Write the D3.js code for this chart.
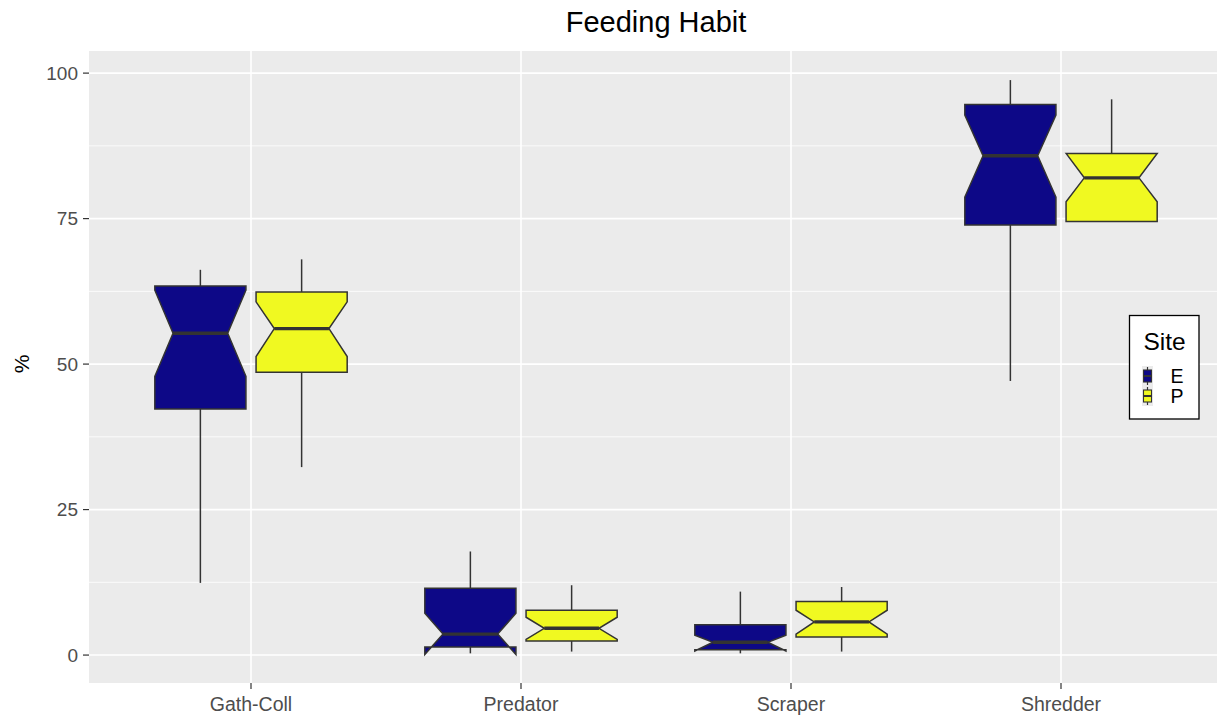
<!DOCTYPE html>
<html>
<head>
<meta charset="utf-8">
<script src="https://cdn.jsdelivr.net/npm/d3@7"></script>
<style>
  html, body { margin: 0; padding: 0; background: #fff; }
  svg { display: block; font-family: "Liberation Sans", Arial, sans-serif; }
</style>
</head>
<body>
<svg id="chart" width="1217" height="719"></svg>
<script>
// Feeding habit categories and sites
const categories = ["Gath-Coll", "Predator", "Scraper", "Shredder"];
const sites = ["E", "P"];
const siteColors = ["#0D0887", "#F0F921"];

// Boxplot statistics per category, one entry per site (E, P)
const whiskerLow  = [[12.4, 32.3], [0.3, 0.6], [0.3, 0.6], [47.1, 74.5]];
const q1          = [[42.3, 48.6], [1.4, 2.4], [0.9, 3.1], [73.9, 74.5]];
const notchLow    = [[47.9, 51.3], [0.1, 2.7], [0.7, 3.6], [78.7, 77.9]];
const median      = [[55.3, 56.1], [3.6, 4.6], [2.2, 5.7], [85.8, 82.0]];
const notchHigh   = [[62.7, 60.7], [7.2, 6.5], [3.4, 7.7], [92.8, 86.2]];
const q3          = [[63.4, 62.4], [11.5, 7.7], [5.2, 9.2], [94.6, 86.2]];
const whiskerHigh = [[66.2, 68.0], [17.8, 12.0], [10.9, 11.7], [98.8, 95.5]];

const yTicks = [0, 25, 50, 75, 100];
const yMinor = [12.5, 37.5, 62.5, 87.5];

const svg = d3.select("#chart");
const panel = { left: 89, top: 51, right: 1223, bottom: 683 };

const x = d3.scaleBand()
  .domain(categories)
  .range([panel.left, panel.right])
  .paddingInner(0)
  .paddingOuter(0.1);
const xSite = d3.scaleBand()
  .domain(sites)
  .range([-0.375 * x.bandwidth(), 0.375 * x.bandwidth()])
  .paddingInner(0.1)
  .paddingOuter(0.05);
const y = d3.scaleLinear().domain([-4.8, 103.8]).range([panel.bottom, panel.top]);
const color = d3.scaleOrdinal().domain(sites).range(siteColors);

const cx = c => x(c) + x.bandwidth() / 2;

// Panel background
svg.append("rect")
  .attr("x", panel.left).attr("y", panel.top)
  .attr("width", panel.right - panel.left).attr("height", panel.bottom - panel.top)
  .attr("fill", "#EBEBEB");

// Grid lines
const grid = svg.append("g");
grid.selectAll(".minor").data(yMinor).join("line")
  .attr("x1", panel.left).attr("x2", panel.right)
  .attr("y1", d => y(d)).attr("y2", d => y(d))
  .attr("stroke", "#fff").attr("stroke-width", 0.8);
grid.selectAll(".majorY").data(yTicks).join("line")
  .attr("x1", panel.left).attr("x2", panel.right)
  .attr("y1", d => y(d)).attr("y2", d => y(d))
  .attr("stroke", "#fff").attr("stroke-width", 1.6);
grid.selectAll(".majorX").data(categories).join("line")
  .attr("x1", d => cx(d)).attr("x2", d => cx(d))
  .attr("y1", panel.top).attr("y2", panel.bottom)
  .attr("stroke", "#fff").attr("stroke-width", 1.6);

// Flatten stats into one record per box
const boxes = [];
categories.forEach((c, i) => {
  sites.forEach((s, j) => {
    boxes.push({
      cat: c, site: s,
      lo: whiskerLow[i][j], q1: q1[i][j], nl: notchLow[i][j], med: median[i][j],
      nu: notchHigh[i][j], q3: q3[i][j], hi: whiskerHigh[i][j]
    });
  });
});

const stroke = "#333333";
const g = svg.append("g");
const bw = xSite.bandwidth();
const inset = bw * 0.2;

boxes.forEach(b => {
  const xc = cx(b.cat) + xSite(b.site) + bw / 2;
  const x0 = xc - bw / 2, x1 = xc + bw / 2;
  // whiskers
  g.append("line").attr("x1", xc).attr("x2", xc)
    .attr("y1", y(b.q3)).attr("y2", y(b.hi))
    .attr("stroke", stroke).attr("stroke-width", 1.5);
  g.append("line").attr("x1", xc).attr("x2", xc)
    .attr("y1", y(b.q1)).attr("y2", y(b.lo))
    .attr("stroke", stroke).attr("stroke-width", 1.5);
  // notched box
  const pts = [
    [x0, y(b.q3)], [x0, y(b.nu)], [x0 + inset, y(b.med)], [x0, y(b.nl)], [x0, y(b.q1)],
    [x1, y(b.q1)], [x1, y(b.nl)], [x1 - inset, y(b.med)], [x1, y(b.nu)], [x1, y(b.q3)]
  ];
  g.append("path")
    .attr("d", d3.line()(pts) + "Z")
    .attr("fill", color(b.site))
    .attr("stroke", stroke).attr("stroke-width", 1.5)
    .attr("stroke-linejoin", "miter");
  // median
  g.append("line")
    .attr("x1", x0 + inset).attr("x2", x1 - inset)
    .attr("y1", y(b.med)).attr("y2", y(b.med))
    .attr("stroke", stroke).attr("stroke-width", 3.4);
});

// Y axis
const yAxis = svg.append("g");
yTicks.forEach(t => {
  yAxis.append("line").attr("x1", panel.left - 6).attr("x2", panel.left)
    .attr("y1", y(t)).attr("y2", y(t)).attr("stroke", stroke).attr("stroke-width", 1.2);
  yAxis.append("text").attr("x", panel.left - 11).attr("y", y(t))
    .attr("dy", "0.36em").attr("text-anchor", "end")
    .attr("font-size", 19).attr("fill", "#4D4D4D").text(t);
});

// X axis
const xAxis = svg.append("g");
categories.forEach(c => {
  xAxis.append("line").attr("x1", cx(c)).attr("x2", cx(c))
    .attr("y1", panel.bottom).attr("y2", panel.bottom + 6)
    .attr("stroke", stroke).attr("stroke-width", 1.2);
  xAxis.append("text").attr("x", cx(c)).attr("y", panel.bottom + 28)
    .attr("text-anchor", "middle")
    .attr("font-size", 19.5).attr("fill", "#4D4D4D").text(c);
});

// Axis title and chart title
svg.append("text")
  .attr("transform", `translate(29, 364) rotate(-90)`)
  .attr("text-anchor", "middle").attr("font-size", 21).attr("fill", "#000").text("%");
svg.append("text")
  .attr("x", (panel.left + panel.right) / 2).attr("y", 32)
  .attr("text-anchor", "middle").attr("font-size", 29).attr("fill", "#000").text("Feeding Habit");

// Legend
const leg = svg.append("g").attr("transform", "translate(1129.5, 315.5)");
leg.append("rect").attr("x", 0).attr("y", 0).attr("width", 69.5).attr("height", 103.5)
  .attr("fill", "#fff").attr("stroke", "#000").attr("stroke-width", 1.3);
leg.append("text").attr("x", 14).attr("y", 34.5).attr("font-size", 24.5).attr("fill", "#000").text("Site");
sites.forEach((s, i) => {
  const ky = 50.5 + i * 20;
  const kg = leg.append("g").attr("transform", `translate(12.5, ${ky})`);
  kg.append("rect").attr("x", 0).attr("y", 0).attr("width", 11).attr("height", 20).attr("fill", "#EBEBEB");
  kg.append("line").attr("x1", 5.5).attr("x2", 5.5).attr("y1", 1).attr("y2", 19)
    .attr("stroke", stroke).attr("stroke-width", 1.2);
  kg.append("rect").attr("x", 1.5).attr("y", 4).attr("width", 8).attr("height", 12)
    .attr("fill", color(s)).attr("stroke", stroke).attr("stroke-width", 1.1);
  kg.append("line").attr("x1", 1.5).attr("x2", 9.5).attr("y1", 10).attr("y2", 10)
    .attr("stroke", stroke).attr("stroke-width", 2);
  leg.append("text").attr("x", 41).attr("y", ky + 10).attr("dy", "0.36em")
    .attr("font-size", 19.5).attr("fill", "#000").text(s);
});
</script>
</body>
</html>
